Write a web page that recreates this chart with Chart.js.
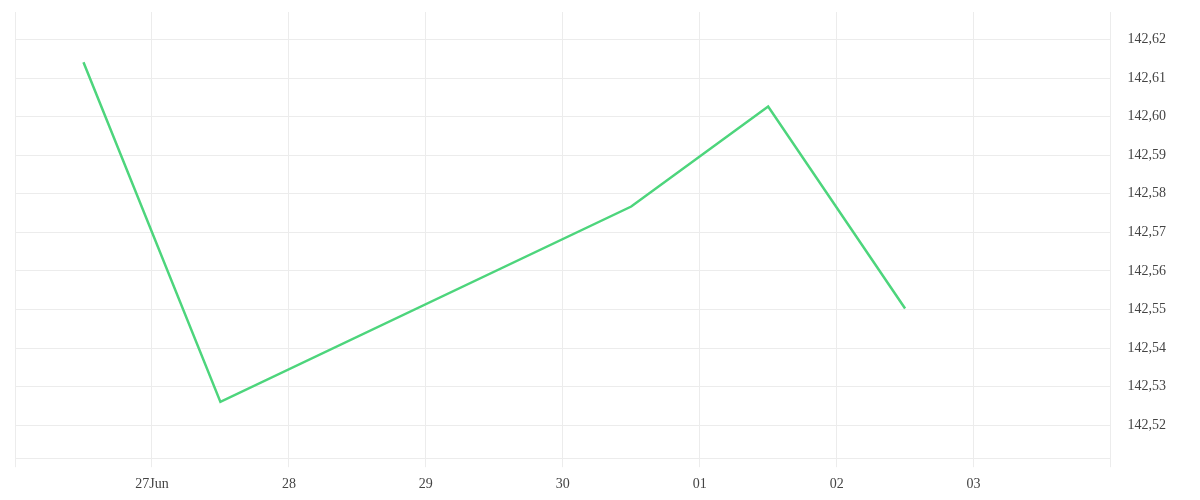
<!DOCTYPE html>
<html>
<head>
<meta charset="utf-8">
<script src="https://cdn.jsdelivr.net/npm/chart.js@4/dist/chart.umd.min.js"></script>
<style>
  html, body { margin: 0; padding: 0; background: #fff; }
  #wrap { width: 1200px; height: 500px; }
</style>
</head>
<body>
<div id="wrap"><canvas id="chart"></canvas></div>
<script>
// Данные
const startDate = '2024-06-26T00:00:00';
const dates = ['2024-06-26T12:00:00', '2024-06-27T12:00:00', '2024-06-30T12:00:00', '2024-07-01T12:00:00', '2024-07-02T12:00:00'];
const rates = [142.6141, 142.5261, 142.5767, 142.6026, 142.5503];
const xTickLabels = ['', '27Jun', '28', '29', '30', '01', '02', '03', ''];
const yTicks = [142.52, 142.53, 142.54, 142.55, 142.56, 142.57, 142.58, 142.59, 142.60, 142.61, 142.62];

const DAY = 86400000;
const t0 = new Date(startDate).getTime();
const points = dates.map((d, i) => ({ x: (new Date(d).getTime() - t0) / DAY, y: rates[i] }));

const gridColor = '#ececec';
const font = { family: "'Liberation Serif', serif", size: 14 };

const ctx = document.getElementById('chart').getContext('2d');
new Chart(ctx, {
    type: 'line',
    data: {
        datasets: [{
            data: points,
            borderColor: '#4dd57c',
            borderWidth: 2.5,
            pointRadius: 0,
            tension: 0,
            fill: false
        }]
    },
    options: {
        responsive: true,
        maintainAspectRatio: false,
        animation: false,
        layout: { padding: { left: 15, top: 12, right: 34, bottom: -2 } },
        plugins: { legend: { display: false }, tooltip: { enabled: false } },
        scales: {
            x: {
                type: 'linear',
                min: 0,
                max: xTickLabels.length - 1,
                ticks: {
                    stepSize: 1,
                    autoSkip: false,
                    maxRotation: 0,
                    padding: 9,
                    color: '#444',
                    font: font,
                    callback: v => xTickLabels[v] ?? ''
                },
                grid: { color: gridColor, tickLength: 9 },
                border: { display: true, color: gridColor }
            },
            y: {
                position: 'right',
                min: 142.5115,
                max: 142.6271,
                afterBuildTicks: scale => {
                    scale.ticks = yTicks.map(v => ({ value: v }));
                },
                ticks: {
                    padding: 0,
                    color: '#444',
                    font: font,
                    callback: v => v.toFixed(2).replace('.', ',')
                },
                // отступ подписей через невидимые засечки
                grid: { color: gridColor, drawTicks: true, tickLength: 17, tickColor: 'rgba(0,0,0,0)' },
                border: { display: true, color: gridColor }
            }
        }
    }
});
</script>
</body>
</html>
